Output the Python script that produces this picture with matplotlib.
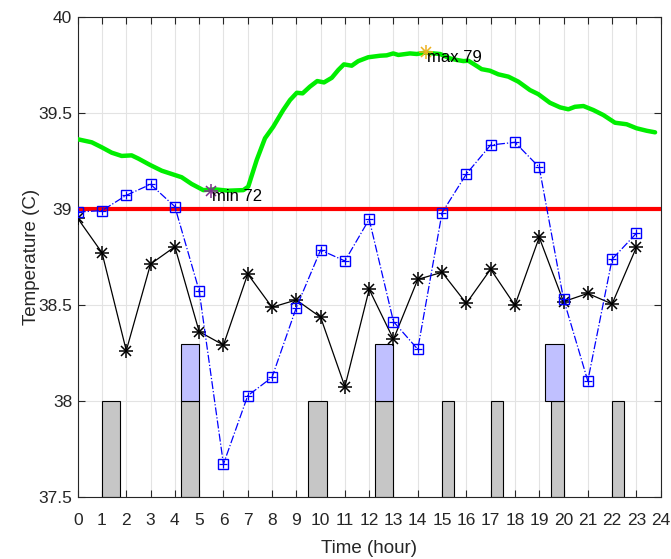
import matplotlib
matplotlib.use("Agg")
import matplotlib.pyplot as plt
import numpy as np

plt.rcParams['font.family'] = ['Liberation Sans', 'DejaVu Sans']

hours = list(range(24))
black_vals = [38.953, 38.774, 38.264, 38.715, 38.805, 38.363, 38.293, 38.663, 38.490, 38.528,
              38.438, 38.076, 38.583, 38.323, 38.635, 38.672, 38.510, 38.688, 38.500, 38.854,
              38.519, 38.562, 38.507, 38.802]
blue_vals = [38.986, 38.993, 39.073, 39.130, 39.014, 38.576, 37.673, 38.029, 38.125, 38.488,
             38.788, 38.731, 38.948, 38.415, 38.271, 38.982, 39.184, 39.335, 39.349, 39.219,
             38.533, 38.106, 38.740, 38.875]

green_x = [0.0, 0.58, 0.99, 1.4, 1.81, 2.22, 2.5, 2.98, 3.46, 3.87, 4.28, 4.69, 5.17, 5.65,
           6.2, 6.82, 7.02, 7.37, 7.71, 8.05, 8.46, 8.74, 9.02, 9.26, 9.56, 9.86, 10.14, 10.46,
           10.73, 10.96, 11.28, 11.55, 11.96, 12.45, 12.72, 12.99, 13.2, 13.68, 13.96, 14.3,
           14.92, 15.33, 15.6, 15.88, 16.08, 16.36, 16.63, 16.97, 17.32, 17.73, 18.14, 18.62,
           18.96, 19.44, 19.86, 20.2, 20.47, 20.82, 21.23, 21.64, 22.12, 22.6, 23.01, 23.43, 23.77]
green_y = [39.365, 39.349, 39.323, 39.295, 39.278, 39.281, 39.264, 39.231, 39.201, 39.184,
           39.167, 39.132, 39.100, 39.104, 39.097, 39.100, 39.118, 39.257, 39.370, 39.430,
           39.517, 39.569, 39.607, 39.604, 39.639, 39.668, 39.661, 39.685, 39.726, 39.755,
           39.748, 39.772, 39.792, 39.800, 39.802, 39.812, 39.804, 39.812, 39.809, 39.816,
           39.809, 39.786, 39.778, 39.772, 39.774, 39.752, 39.730, 39.722, 39.703, 39.691,
           39.665, 39.621, 39.600, 39.555, 39.531, 39.521, 39.534, 39.538, 39.517, 39.491,
           39.451, 39.443, 39.422, 39.409, 39.401]

threshold = 39.0

gray_start = [1.0, 4.25, 9.5, 12.25, 15.0, 17.0, 19.5, 22.0]
gray_width = [0.75, 0.75, 0.75, 0.75, 0.5, 0.5, 0.5, 0.5]
gray_bottom = 37.5
gray_height = 0.5

blue_start = [4.25, 12.25, 19.25]
blue_width = [0.75, 0.75, 0.75]
blue_bottom = 38.0
blue_height = 0.3

min_x, min_y, min_label = 5.47, 39.095, 'min 72'
max_x, max_y, max_label = 14.33, 39.821, 'max 79'

fig = plt.figure(figsize=(6.71, 5.59), dpi=100)
ax = fig.add_axes([0.1158, 0.1104, 0.8688, 0.8586])


def asterisk(x, y, color, size, z):
    ax.plot(x, y, linestyle='none', marker='+', color=color, markersize=size,
            markeredgewidth=1.1, zorder=z)
    ax.plot(x, y, linestyle='none', marker='x', color=color, markersize=size * 0.72,
            markeredgewidth=1.1, zorder=z)


ax.bar(gray_start, [gray_height] * len(gray_start), width=gray_width, bottom=gray_bottom,
       align='edge', color='#c6c6c6', edgecolor='black', linewidth=0.8, zorder=2)
ax.bar(blue_start, [blue_height] * len(blue_start), width=blue_width, bottom=blue_bottom,
       align='edge', color='#c0c0ff', edgecolor='black', linewidth=0.8, zorder=2)

ax.plot(green_x, green_y, color='#00ee00', linewidth=3.2, zorder=3, solid_capstyle='round')
ax.axhline(threshold, color='#ff0000', linewidth=3.0, zorder=3)

ax.plot(hours, black_vals, color='black', linewidth=0.9, zorder=4)
asterisk(hours, black_vals, 'black', 10, 4)
ax.plot(hours, blue_vals, color='blue', linewidth=0.9, linestyle='-.', marker='s',
        markersize=7, markerfacecolor='none', markeredgewidth=1.0, zorder=4)
ax.plot(hours, blue_vals, linestyle='none', marker='+', color='blue', markersize=6,
        markeredgewidth=0.9, zorder=4)

asterisk([min_x], [min_y], '#7e2f8e', 10, 5)
ax.text(min_x + 0.05, min_y - 0.03, min_label, fontsize=12, va='center', ha='left', zorder=6)
asterisk([max_x], [max_y], '#edb120', 10, 5)
ax.text(max_x + 0.05, max_y - 0.03, max_label, fontsize=12, va='center', ha='left', zorder=6)

ax.set_xlim(0, 24)
ax.set_ylim(37.5, 40)
ax.set_xticks(range(0, 25))
ax.set_yticks([37.5, 38, 38.5, 39, 39.5, 40])
ax.set_yticklabels(['37.5', '38', '38.5', '39', '39.5', '40'])
ax.grid(True, color='#e3e3e3', linewidth=0.8, zorder=0)
ax.set_axisbelow(True)
ax.tick_params(direction='in', top=True, right=True, length=5, width=0.8,
               labelsize=12.5, colors='#262626')
ax.tick_params(axis='x', pad=11)
ax.tick_params(axis='y', pad=4)
for s in ax.spines.values():
    s.set_color('#262626')
    s.set_linewidth(0.8)
ax.set_xlabel('Time (hour)', fontsize=13.5, color='#262626', labelpad=9)
ax.set_ylabel('Temperature (C)', fontsize=13.5, color='#262626', labelpad=-1)

fig.savefig('out.png', dpi=100)
